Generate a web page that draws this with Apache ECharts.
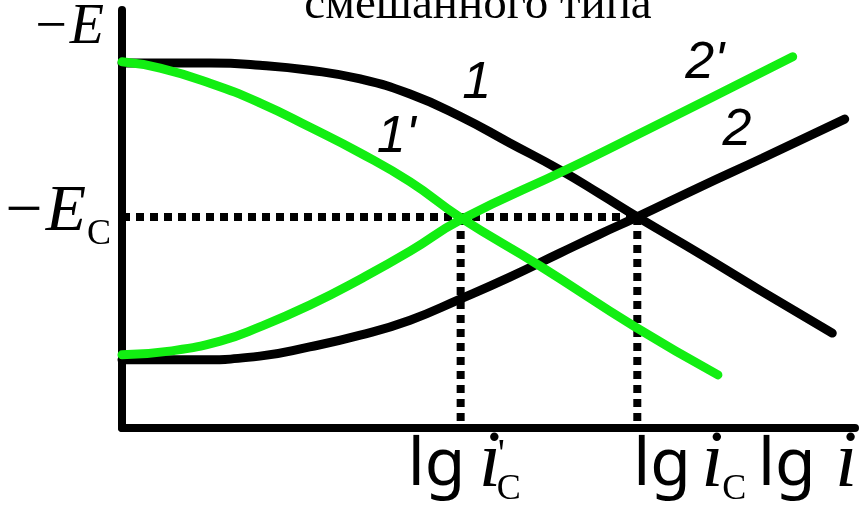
<!DOCTYPE html>
<html>
<head>
<meta charset="utf-8">
<script src="https://cdn.jsdelivr.net/npm/echarts@6/dist/echarts.min.js"></script>
<style>
  html, body { margin: 0; padding: 0; background: #fff; }
  #chart { width: 860px; height: 510px; }
</style>
</head>
<body>
<div id="chart"></div>
<script>
// Polarisation curves of a mixed-type system: lg i along x, −E along y (relative units 0..10)
const curve1X  = [0, 1.20, 1.88, 2.56, 3.25, 3.93, 4.61, 5.29, 5.98, 6.52, 7.03, 7.89, 8.70, 9.69];
const curve1Y  = [8.73, 8.73, 8.68, 8.56, 8.35, 7.99, 7.46, 6.82, 6.17, 5.60, 5.05, 4.16, 3.30, 2.27];

const curve1pX = [0, 0.52, 1.20, 1.88, 2.56, 3.25, 3.93, 4.62, 5.70, 7.00, 8.13];
const curve1pY = [8.76, 8.61, 8.25, 7.78, 7.20, 6.58, 5.89, 5.03, 3.88, 2.42, 1.27];

const curve2X  = [0, 0.93, 1.88, 2.56, 3.25, 3.93, 4.62, 5.29, 5.98, 6.52, 7.03, 7.89, 8.74, 9.86];
const curve2Y  = [1.63, 1.63, 1.72, 1.94, 2.22, 2.58, 3.09, 3.61, 4.19, 4.64, 5.05, 5.77, 6.46, 7.39];

const curve2pX = [0, 0.65, 1.34, 1.88, 2.56, 3.25, 3.93, 4.62, 6.11, 7.16, 8.06, 9.15];
const curve2pY = [1.75, 1.84, 2.08, 2.42, 2.94, 3.56, 4.23, 4.98, 6.22, 7.13, 7.92, 8.88];

// Crossing points: E_c level and the two corrosion currents
const levelEc = 5.05;
const lgIcPrime = 4.62;
const lgIc = 7.03;

const curveNames = ['1', "1'", '2', "2'"];
const titleText = 'смешанного типа';

const BLACK = '#000000';
const GREEN = '#12ee12';

const zip = (xs, ys) => xs.map((x, i) => [x, ys[i]]);

function curve(name, xs, ys, color) {
  return {
    type: 'line', name, data: zip(xs, ys), symbol: 'none', smooth: 0.5,
    lineStyle: { color, width: 9, cap: 'round', join: 'round' }, z: 3
  };
}

function guide(points) {
  return {
    type: 'line', data: points, symbol: 'none', silent: true, z: 2,
    lineStyle: { color: BLACK, width: 8, type: [8, 6] }
  };
}

const chart = echarts.init(document.getElementById('chart'), null, { renderer: 'canvas' });

const plainAxis = {
  type: 'value', min: 0, max: 10,
  axisLine: { show: true, onZero: false, lineStyle: { color: BLACK, width: 8, cap: 'round' } },
  axisTick: { show: false }, axisLabel: { show: false }, splitLine: { show: false }
};

chart.setOption({
  animation: false,
  backgroundColor: '#ffffff',
  grid: { left: 122, right: 5, top: 10, bottom: 82 },
  xAxis: Object.assign({}, plainAxis),
  yAxis: Object.assign({}, plainAxis),
  series: [
    guide([[0, levelEc], [lgIc, levelEc]]),
    guide([[lgIcPrime, levelEc], [lgIcPrime, 0]]),
    guide([[lgIc, levelEc], [lgIc, 0]]),
    curve(curveNames[0], curve1X, curve1Y, BLACK),
    curve(curveNames[2], curve2X, curve2Y, BLACK),
    curve(curveNames[1], curve1pX, curve1pY, GREEN),
    curve(curveNames[3], curve2pX, curve2pY, GREEN)
  ]
});

// Captions, placed relative to the axis values they describe
const toPx = (x, y) => chart.convertToPixel({ gridIndex: 0 }, [x, y]);

function txt(str, x, y, font, align) {
  return {
    type: 'text', x, y, silent: true, z: 10,
    style: {
      text: str, font, fill: BLACK, opacity: 1,
      align: align || 'left', textAlign: align || 'left',
      verticalAlign: 'middle', textVerticalAlign: 'middle'
    }
  };
}

const fCurve = 'italic 52px "Liberation Sans"';
const fLg = '66px "Noto Sans"';
const fI = 'italic 80px "Liberation Serif"';
const fSub = '36px "Liberation Serif"';
const fPrime = '40px "Liberation Serif"';

const pOrigin = toPx(0, 0);
const pTop = toPx(0, 10);
const pEc = toPx(0, levelEc);
const pA = toPx(lgIcPrime, 0);
const pB = toPx(lgIc, 0);
const pEnd = toPx(10, 0);
const lgY = pOrigin[1] + 38;
const iY = pOrigin[1] + 37;
const subY = pOrigin[1] + 62;

// curve numbers next to their lines
const curveLabelAt = [[4.84, 8.23], [3.74, 6.96], [8.39, 7.11], [7.95, 8.73]];
const curveLabels = curveNames.map((n, k) => {
  const p = toPx(curveLabelAt[k][0], curveLabelAt[k][1]);
  return txt(n, p[0], p[1], fCurve, 'center');
});

const graphics = curveLabels.concat([
  txt(titleText, 478, 6, '47px "Liberation Serif"', 'center'),
  // −E at the top of the ordinate
  txt('\u2212E', pOrigin[0] - 18, pTop[1] + 18, 'italic 56px "Liberation Serif"', 'right'),
  // −E_c at the crossing level
  txt('\u2212E', pOrigin[0] - 36, pEc[1] - 4, 'italic 66px "Liberation Serif"', 'right'),
  txt('C', pOrigin[0] - 35, pEc[1] + 18, fSub),
  // lg i'_c
  txt('lg', pA[0] - 53, lgY, fLg),
  txt('i', pA[0] + 18, iY, fI),
  txt("'", pA[0] + 37, iY - 10, fPrime),
  txt('C', pA[0] + 36, subY, fSub),
  // lg i_c
  txt('lg', pB[0] - 4, lgY, fLg),
  txt('i', pB[0] + 64, iY, fI),
  txt('C', pB[0] + 85, subY, fSub),
  // lg i at the end of the abscissa
  txt('lg', pEnd[0] - 97, lgY, fLg),
  txt('i', pEnd[0] - 20, iY, fI)
]);

chart.setOption({ graphic: { elements: graphics } });
</script>
</body>
</html>
